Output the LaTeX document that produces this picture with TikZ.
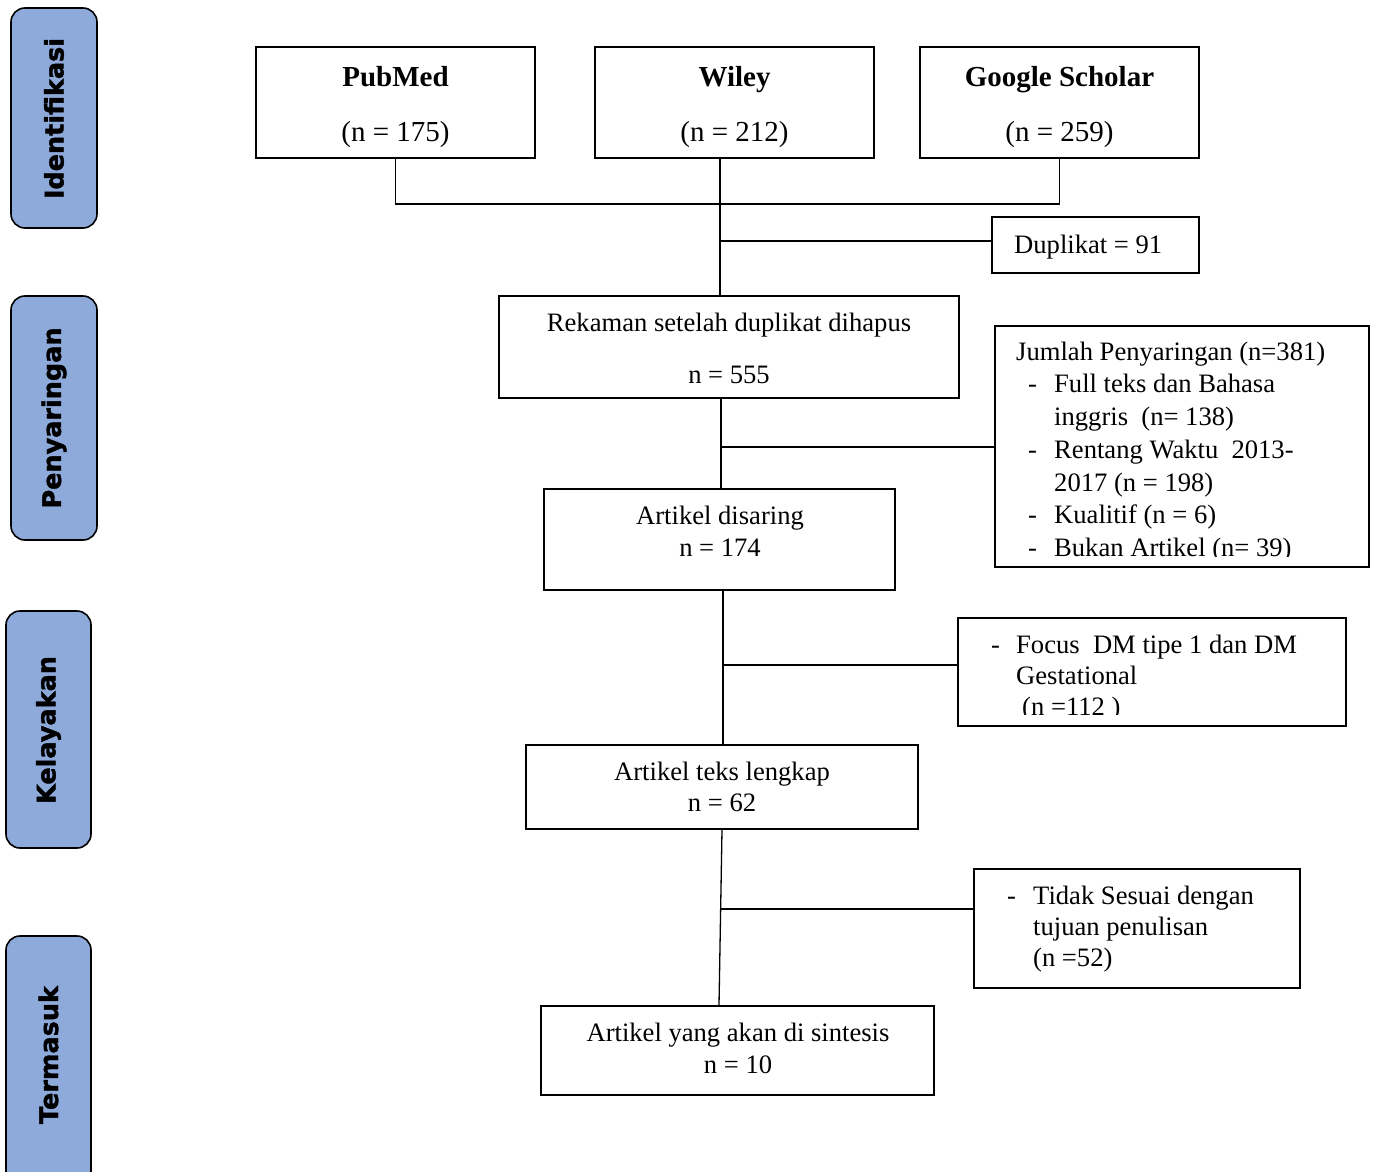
\documentclass[tikz,border=0pt]{standalone}
\usepackage{fontspec}
\setmainfont{Liberation Serif}
\newfontfamily\sidefont[BoldFeatures={FakeBold=1.6}]{DejaVu Sans}
\definecolor{sideblue}{HTML}{8EAADB}
\newcommand\tstr{\rule{0pt}{22pt}}
\begin{document}
\begin{tikzpicture}[x=1pt,y=-1pt,
  box/.style={draw, line width=1.7pt, inner sep=0pt},
  conn/.style={line width=1.3pt},
  branch/.style={line width=2pt},
  side/.style={draw, line width=1.6pt, fill=sideblue, rounded corners=14pt, inner sep=0pt},
  sidetxt/.style={rotate=90, font=\sidefont\bfseries\fontsize{25.5}{30}\selectfont, inner sep=0pt},
  toptxt/.style={align=center, inner sep=0pt, anchor=north, font=\fontsize{29}{55}\selectfont},
  ctxt/.style={align=center, inner sep=0pt, anchor=north, font=\fontsize{26.6}{#1}\selectfont},
  ltxt/.style={align=left, inner sep=0pt, anchor=north west, font=\fontsize{26.6}{#1}\selectfont},
]
\useasboundingbox (0,0) rectangle (1373,1172);
\clip (0,0) rectangle (1373,1172);
\fill[white] (0,0) rectangle (1373,1172);

% side phase labels
\node[side, minimum width=86, minimum height=220] (s1) at (54,118) {};
\node[sidetxt] (s1t) at (54,118.5) {Identifikasi};
\node[side, minimum width=86, minimum height=244] (s2) at (54,418) {};
\node[sidetxt] (s2t) at (54,418) {Penyaringan};
\node[side, minimum width=85, minimum height=237] (s3) at (48.5,729.5) {};
\node[sidetxt] (s3t) at (48.5,730) {Kelayakan};
\node[side, minimum width=85, minimum height=270] (s4) at (48.5,1071) {};
\node[sidetxt] (s4t) at (48.5,1055) {Termasuk};

% sources
\node[box, minimum width=279, minimum height=111] (pub) at (395.5,102.5) {};
\node[toptxt] (pubt) at (395.5,64) {\tstr\textbf{PubMed}\\(n = 175)};
\node[box, minimum width=279, minimum height=111] (wil) at (734.5,102.5) {};
\node[toptxt] (wilt) at (734.5,64) {\tstr\textbf{Wiley}\\(n = 212)};
\node[box, minimum width=279, minimum height=111] (gs) at (1059.5,102.5) {};
\node[toptxt] (gst) at (1059.5,64) {\tstr\textbf{Google Scholar}\\(n = 259)};

% duplicates
\node[box, minimum width=207, minimum height=56] (dup) at (1095.5,245) {};
\node[ltxt=32] (dupt) at (1014,231) {\tstr Duplikat = 91};

% records after dedup
\node[box, minimum width=460, minimum height=102] (rek) at (729,347) {};
\node[ctxt=52] (rekt) at (729,309) {\tstr Rekaman setelah duplikat dihapus\\n = 555};

% screening exclusions
\node[box, minimum width=374, minimum height=241] (jum) at (1182,446.5) {};
\begin{scope}
\clip (990,320) rectangle (1375,556.5);
\node[ltxt=32.7] (jumt) at (1016,338) {\tstr Jumlah Penyaringan (n=381)\\
\makebox[38pt][l]{\hspace*{12pt}-}Full teks dan Bahasa\\
\hspace*{38pt}inggris\ \ (n= 138)\\
\makebox[38pt][l]{\hspace*{12pt}-}Rentang Waktu\ \ 2013-\\
\hspace*{38pt}2017 (n = 198)\\
\makebox[38pt][l]{\hspace*{12pt}-}Kualitif (n = 6)\\
\makebox[38pt][l]{\hspace*{12pt}-}Bukan Artikel (n= 39)};
\end{scope}

% screened
\node[box, minimum width=351, minimum height=101] (dis) at (719.5,539.5) {};
\node[ctxt=32] (dist) at (720,502) {\tstr Artikel disaring\\n = 174};

% eligibility exclusion
\node[box, minimum width=388, minimum height=108] (foc) at (1152,672) {};
\begin{scope}
\clip (960,620) rectangle (1345,714.5);
\node[ltxt=31] (foct) at (991,631) {\tstr\makebox[25pt][l]{-}Focus\ \ DM tipe 1 dan DM\\
\hspace*{25pt}Gestational\\
\hspace*{31pt}(n =112 )};
\end{scope}

% full text
\node[box, minimum width=392, minimum height=84] (tek) at (722,787) {};
\node[ctxt=31] (tekt) at (722,758) {\tstr Artikel teks lengkap\\n = 62};

% not matching
\node[box, minimum width=326, minimum height=119] (tid) at (1137,928.5) {};
\node[ltxt=31] (tidt) at (1007,882) {\tstr\makebox[26pt][l]{-}Tidak Sesuai dengan\\
\hspace*{26pt}tujuan penulisan\\
\hspace*{26pt}(n =52)};

% included
\node[box, minimum width=393, minimum height=89] (fin) at (737.5,1050.5) {};
\node[ctxt=32] (fint) at (738,1019) {\tstr Artikel yang akan di sintesis\\n = 10};

% connectors
\coordinate (j) at (720,204);
\draw[conn] (pub.south) -- (pub.south |- j) -- (gs.south |- j) -- (gs.south);
\draw[conn] (wil.south -| j) -- (j) -- (rek.north -| j);
\coordinate (jd) at (720,241);
\draw[branch] (jd) -- (dup.west |- jd);
\coordinate (jr) at (721,447);
\draw[conn] (rek.south -| jr) -- (dis.north -| jr);
\draw[branch] (jr) -- (jum.west |- jr);
\coordinate (jf) at (723,665);
\draw[conn] (dis.south -| jf) -- (tek.north -| jf);
\draw[branch] (jf) -- (foc.west |- jf);
\coordinate (jt) at (720.5,909);
\coordinate (ft) at (719,1006);
\draw[conn] (tek.south) -- (fin.north -| ft);
\draw[branch] (jt) -- (tid.west |- jt);
\end{tikzpicture}
\end{document}
